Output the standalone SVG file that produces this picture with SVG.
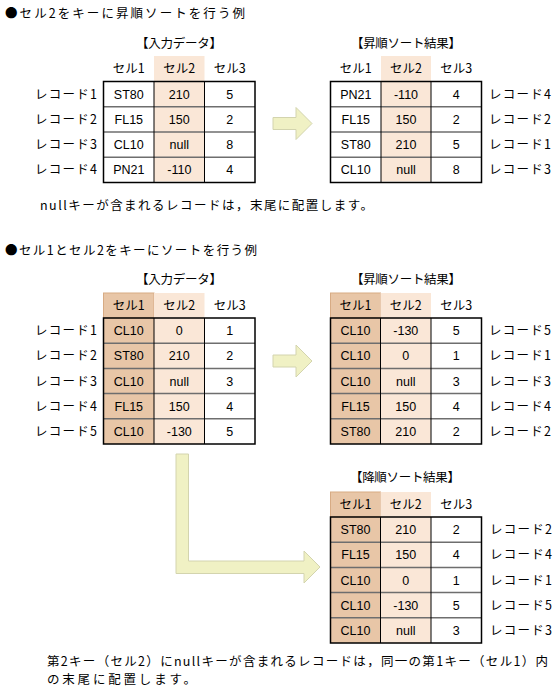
<svg xmlns="http://www.w3.org/2000/svg" width="560" height="697" viewBox="0 0 560 697">
<style>
text{font-family:"Noto Sans CJK JP","Noto Sans",sans-serif;font-size:12.5px;fill:#000}
.h{text-anchor:middle}
.c{text-anchor:middle}
.v{font-family:"Liberation Sans",Arial,sans-serif;font-size:12.5px;text-anchor:middle}
.outer{fill:none;stroke:#000;stroke-width:1.5}
.vl{stroke:#000;stroke-width:1}
.hl{stroke:#6e6e6e;stroke-width:1.5}
.k2{fill:#FAE7D7}
.k1{fill:#E8C6A7}
.k1h{fill:#E8C6A7;stroke:#D7AB84;stroke-width:1}
.arrow{fill:#F0F1C4;stroke:#D3D4AE;stroke-width:1}
</style>

<g id="titles">
<text x="5" y="18" textLength="240" lengthAdjust="spacing">●セル2をキーに昇順ソートを行う例</text>
<text x="40" y="210" textLength="333" lengthAdjust="spacing">nullキーが含まれるレコードは，末尾に配置します。</text>
<text x="5" y="255" textLength="252" lengthAdjust="spacing">●セル1とセル2をキーにソートを行う例</text>
<text x="47" y="666" textLength="501" lengthAdjust="spacing">第2キー（セル2）にnullキーが含まれるレコードは，同一の第1キー（セル1）内</text>
<text x="47" y="684" textLength="149" lengthAdjust="spacing">の末尾に配置します。</text>
</g>

<!-- Example 1: input -->
<g id="t1-input">
<text class="h" x="179" y="48" textLength="86" lengthAdjust="spacing">【入力データ】</text>
<rect class="k2" x="154" y="56" width="50.5" height="125.5"/>
<text class="c" x="128.8" y="73">セル1</text>
<text class="c" x="179.3" y="73">セル2</text>
<text class="c" x="229.8" y="73">セル3</text>
<line class="hl" x1="103.5" y1="106.75" x2="255" y2="106.75"/>
<line class="hl" x1="103.5" y1="132" x2="255" y2="132"/>
<line class="hl" x1="103.5" y1="157.25" x2="255" y2="157.25"/>
<line class="vl" x1="154" y1="81.5" x2="154" y2="182.5"/>
<line class="vl" x1="204.5" y1="81.5" x2="204.5" y2="182.5"/>
<rect class="outer" x="103.5" y="81.5" width="151.5" height="101"/>
<text x="35" y="98.5" textLength="62" lengthAdjust="spacing">レコード1</text>
<text x="35" y="123.5" textLength="62" lengthAdjust="spacing">レコード2</text>
<text x="35" y="148.8" textLength="62" lengthAdjust="spacing">レコード3</text>
<text x="35" y="174" textLength="62" lengthAdjust="spacing">レコード4</text>
<text class="v" x="128.8" y="98.5">ST80</text><text class="v" x="179.3" y="98.5">210</text><text class="v" x="229.8" y="98.5">5</text>
<text class="v" x="128.8" y="123.5">FL15</text><text class="v" x="179.3" y="123.5">150</text><text class="v" x="229.8" y="123.5">2</text>
<text class="v" x="128.8" y="148.8">CL10</text><text class="v" x="179.3" y="148.8">null</text><text class="v" x="229.8" y="148.8">8</text>
<text class="v" x="128.8" y="174">PN21</text><text class="v" x="179.3" y="174">-110</text><text class="v" x="229.8" y="174">4</text>
</g>

<!-- Example 1: result -->
<g id="t1-result">
<text class="h" x="406" y="48" textLength="110" lengthAdjust="spacing">【昇順ソート結果】</text>
<rect class="k2" x="381" y="56" width="50" height="125.5"/>
<text class="c" x="355.8" y="73">セル1</text>
<text class="c" x="406" y="73">セル2</text>
<text class="c" x="456.3" y="73">セル3</text>
<line class="hl" x1="330.5" y1="106.75" x2="481.5" y2="106.75"/>
<line class="hl" x1="330.5" y1="132" x2="481.5" y2="132"/>
<line class="hl" x1="330.5" y1="157.25" x2="481.5" y2="157.25"/>
<line class="vl" x1="381" y1="81.5" x2="381" y2="182.5"/>
<line class="vl" x1="431" y1="81.5" x2="431" y2="182.5"/>
<rect class="outer" x="330.5" y="81.5" width="151" height="101"/>
<text class="v" x="355.8" y="98.5">PN21</text><text class="v" x="406" y="98.5">-110</text><text class="v" x="456.3" y="98.5">4</text>
<text class="v" x="355.8" y="123.5">FL15</text><text class="v" x="406" y="123.5">150</text><text class="v" x="456.3" y="123.5">2</text>
<text class="v" x="355.8" y="148.8">ST80</text><text class="v" x="406" y="148.8">210</text><text class="v" x="456.3" y="148.8">5</text>
<text class="v" x="355.8" y="174">CL10</text><text class="v" x="406" y="174">null</text><text class="v" x="456.3" y="174">8</text>
<text x="489" y="98.5" textLength="62" lengthAdjust="spacing">レコード4</text>
<text x="489" y="123.5" textLength="62" lengthAdjust="spacing">レコード2</text>
<text x="489" y="148.8" textLength="62" lengthAdjust="spacing">レコード1</text>
<text x="489" y="174" textLength="62" lengthAdjust="spacing">レコード3</text>
</g>

<!-- Example 2: input -->
<g id="t2-input">
<text class="h" x="179" y="284" textLength="86" lengthAdjust="spacing">【入力データ】</text>
<rect class="k1h" x="103.5" y="293" width="50.5" height="25"/>
<rect class="k1" x="103.5" y="318" width="50.5" height="126"/>
<rect class="k2" x="154" y="293" width="50.5" height="151"/>
<text class="c" x="128.8" y="310">セル1</text>
<text class="c" x="179.3" y="310">セル2</text>
<text class="c" x="229.8" y="310">セル3</text>
<line class="hl" x1="103.5" y1="343.2" x2="255" y2="343.2"/>
<line class="hl" x1="103.5" y1="368.4" x2="255" y2="368.4"/>
<line class="hl" x1="103.5" y1="393.6" x2="255" y2="393.6"/>
<line class="hl" x1="103.5" y1="418.8" x2="255" y2="418.8"/>
<line class="vl" x1="154" y1="318" x2="154" y2="444"/>
<line class="vl" x1="204.5" y1="318" x2="204.5" y2="444"/>
<rect class="outer" x="103.5" y="318" width="151.5" height="126"/>
<text x="35" y="335.2" textLength="62" lengthAdjust="spacing">レコード1</text>
<text x="35" y="360.4" textLength="62" lengthAdjust="spacing">レコード2</text>
<text x="35" y="385.6" textLength="62" lengthAdjust="spacing">レコード3</text>
<text x="35" y="410.8" textLength="62" lengthAdjust="spacing">レコード4</text>
<text x="35" y="436" textLength="62" lengthAdjust="spacing">レコード5</text>
<text class="v" x="128.8" y="335.2">CL10</text><text class="v" x="179.3" y="335.2">0</text><text class="v" x="229.8" y="335.2">1</text>
<text class="v" x="128.8" y="360.4">ST80</text><text class="v" x="179.3" y="360.4">210</text><text class="v" x="229.8" y="360.4">2</text>
<text class="v" x="128.8" y="385.6">CL10</text><text class="v" x="179.3" y="385.6">null</text><text class="v" x="229.8" y="385.6">3</text>
<text class="v" x="128.8" y="410.8">FL15</text><text class="v" x="179.3" y="410.8">150</text><text class="v" x="229.8" y="410.8">4</text>
<text class="v" x="128.8" y="436">CL10</text><text class="v" x="179.3" y="436">-130</text><text class="v" x="229.8" y="436">5</text>
</g>

<!-- Example 2: ascending -->
<g id="t2-asc">
<text class="h" x="406" y="284" textLength="110" lengthAdjust="spacing">【昇順ソート結果】</text>
<rect class="k1h" x="330.5" y="293" width="50" height="25"/>
<rect class="k1" x="330.5" y="318" width="50" height="126"/>
<rect class="k2" x="380.5" y="293" width="50.5" height="151"/>
<text class="c" x="355.5" y="310">セル1</text>
<text class="c" x="405.8" y="310">セル2</text>
<text class="c" x="456.3" y="310">セル3</text>
<line class="hl" x1="330.5" y1="343.2" x2="481.5" y2="343.2"/>
<line class="hl" x1="330.5" y1="368.4" x2="481.5" y2="368.4"/>
<line class="hl" x1="330.5" y1="393.6" x2="481.5" y2="393.6"/>
<line class="hl" x1="330.5" y1="418.8" x2="481.5" y2="418.8"/>
<line class="vl" x1="380.5" y1="318" x2="380.5" y2="444"/>
<line class="vl" x1="431" y1="318" x2="431" y2="444"/>
<rect class="outer" x="330.5" y="318" width="151" height="126"/>
<text class="v" x="355.5" y="335.2">CL10</text><text class="v" x="405.8" y="335.2">-130</text><text class="v" x="456.3" y="335.2">5</text>
<text class="v" x="355.5" y="360.4">CL10</text><text class="v" x="405.8" y="360.4">0</text><text class="v" x="456.3" y="360.4">1</text>
<text class="v" x="355.5" y="385.6">CL10</text><text class="v" x="405.8" y="385.6">null</text><text class="v" x="456.3" y="385.6">3</text>
<text class="v" x="355.5" y="410.8">FL15</text><text class="v" x="405.8" y="410.8">150</text><text class="v" x="456.3" y="410.8">4</text>
<text class="v" x="355.5" y="436">ST80</text><text class="v" x="405.8" y="436">210</text><text class="v" x="456.3" y="436">2</text>
<text x="489" y="335.2" textLength="62" lengthAdjust="spacing">レコード5</text>
<text x="489" y="360.4" textLength="62" lengthAdjust="spacing">レコード1</text>
<text x="489" y="385.6" textLength="62" lengthAdjust="spacing">レコード3</text>
<text x="489" y="410.8" textLength="62" lengthAdjust="spacing">レコード4</text>
<text x="489" y="436" textLength="62" lengthAdjust="spacing">レコード2</text>
</g>

<!-- Example 2: descending -->
<g id="t2-desc">
<text class="h" x="405" y="482" textLength="110" lengthAdjust="spacing">【降順ソート結果】</text>
<rect class="k1h" x="330.5" y="492" width="50" height="25"/>
<rect class="k1" x="330.5" y="517" width="50" height="126"/>
<rect class="k2" x="380.5" y="492" width="50.5" height="151"/>
<text class="c" x="355.5" y="509">セル1</text>
<text class="c" x="405.8" y="509">セル2</text>
<text class="c" x="456.3" y="509">セル3</text>
<line class="hl" x1="330.5" y1="542.2" x2="481.5" y2="542.2"/>
<line class="hl" x1="330.5" y1="567.4" x2="481.5" y2="567.4"/>
<line class="hl" x1="330.5" y1="592.6" x2="481.5" y2="592.6"/>
<line class="hl" x1="330.5" y1="617.8" x2="481.5" y2="617.8"/>
<line class="vl" x1="380.5" y1="517" x2="380.5" y2="643"/>
<line class="vl" x1="431" y1="517" x2="431" y2="643"/>
<rect class="outer" x="330.5" y="517" width="151" height="126"/>
<text class="v" x="355.5" y="534.2">ST80</text><text class="v" x="405.8" y="534.2">210</text><text class="v" x="456.3" y="534.2">2</text>
<text class="v" x="355.5" y="559.4">FL15</text><text class="v" x="405.8" y="559.4">150</text><text class="v" x="456.3" y="559.4">4</text>
<text class="v" x="355.5" y="584.6">CL10</text><text class="v" x="405.8" y="584.6">0</text><text class="v" x="456.3" y="584.6">1</text>
<text class="v" x="355.5" y="609.8">CL10</text><text class="v" x="405.8" y="609.8">-130</text><text class="v" x="456.3" y="609.8">5</text>
<text class="v" x="355.5" y="635">CL10</text><text class="v" x="405.8" y="635">null</text><text class="v" x="456.3" y="635">3</text>
<text x="490" y="534.2" textLength="62" lengthAdjust="spacing">レコード2</text>
<text x="490" y="559.4" textLength="62" lengthAdjust="spacing">レコード4</text>
<text x="490" y="584.6" textLength="62" lengthAdjust="spacing">レコード1</text>
<text x="490" y="609.8" textLength="62" lengthAdjust="spacing">レコード5</text>
<text x="490" y="635" textLength="62" lengthAdjust="spacing">レコード3</text>
</g>

<g id="connectors">
<path class="arrow" d="M273,117.5 H296 V107.5 L312,123.5 L296,139.5 V129.5 H273 Z"/>
<path class="arrow" d="M273,355 H296 V345 L312,361 L296,377 V367 H273 Z"/>
<path class="arrow" d="M176,454 H188.5 V561 H304 V551 L320,567 L304,583 V573.5 H176 Z"/>
</g>
</svg>
